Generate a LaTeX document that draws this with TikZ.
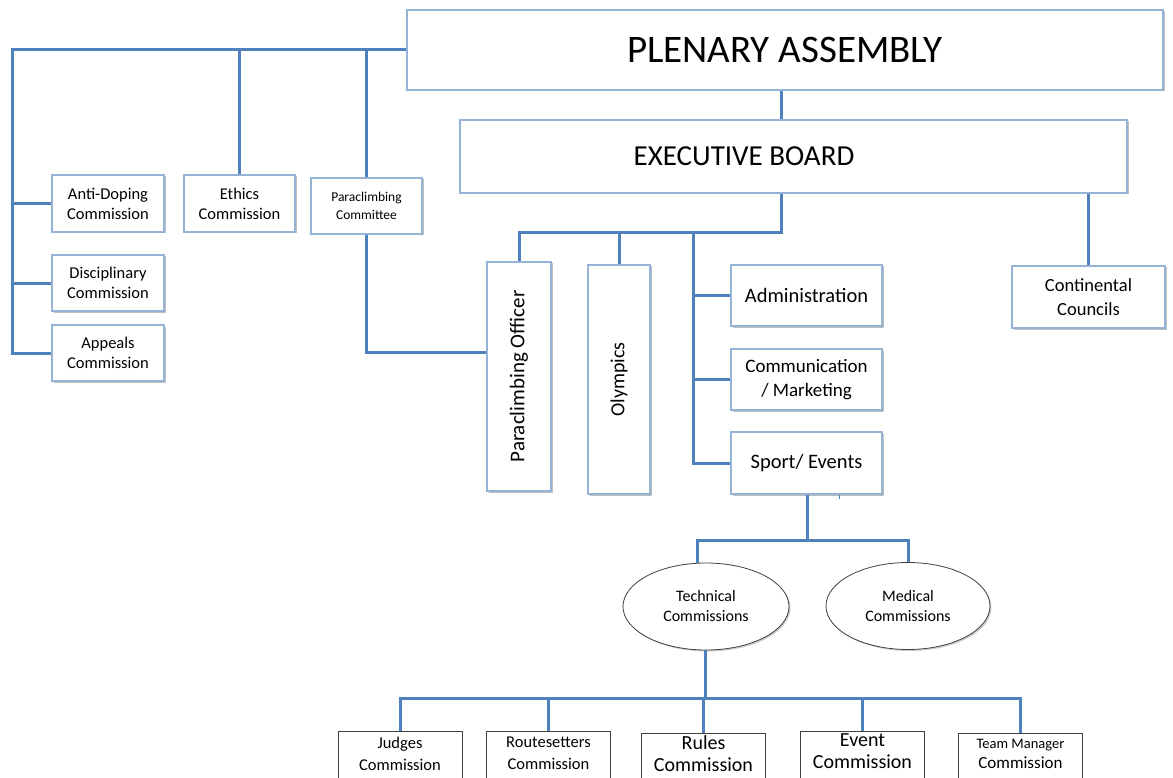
\documentclass[tikz,border=0pt]{standalone}
\usepackage{fontspec}
\setmainfont{Carlito}
\usepackage{graphicx}
\usetikzlibrary{shapes.geometric,shadows}
\definecolor{lineblue}{HTML}{4F81BD}
\definecolor{boxblue}{HTML}{95B3D7}
\definecolor{darkgrey}{HTML}{404040}
\newcommand{\fs}[2]{\fontsize{#1}{#2}\selectfont}
\tikzset{
  conn/.style={draw=lineblue,line width=3pt},
  bbox/.style={draw=boxblue,line width=1.2pt,fill=white,align=center,inner sep=1pt,
    drop shadow={shadow xshift=1.5pt,shadow yshift=-1.5pt,opacity=0.25,fill=black}},
  ebox/.style={ellipse,draw=darkgrey,line width=0.8pt,fill=white,align=center,inner sep=0pt,
    drop shadow={shadow xshift=1.5pt,shadow yshift=-1.5pt,opacity=0.2,fill=black}},
  gbox/.style={draw=darkgrey,line width=0.8pt,fill=white,inner xsep=2pt,inner ysep=6pt,
    anchor=north},
}
\begin{document}
\begin{tikzpicture}[x=1pt,y=-1pt]
\useasboundingbox[fill=white] (0,0) rectangle (1173,778);
% top level
\node[bbox,minimum width=756pt,minimum height=80pt,font=\fs{39}{42}] (pa) at (785,50) {PLENARY ASSEMBLY};
\node[bbox,minimum width=667pt,minimum height=73pt,font=\fs{29}{32}] (ex) at (793.5,156.5) {\hspace*{-99pt}EXECUTIVE BOARD};
% left commissions
\node[bbox,minimum width=112pt,minimum height=57pt,font=\fs{16.5}{20}] (ad) at (108,203.5) {Anti-Doping\\Commission};
\node[bbox,minimum width=112pt,minimum height=56pt,font=\fs{16.5}{20}] (dc) at (108,283) {Disciplinary\\Commission};
\node[bbox,minimum width=112pt,minimum height=56pt,font=\fs{16.5}{20}] (ap) at (108,353) {Appeals\\Commission};
\node[bbox,minimum width=111pt,minimum height=57pt,font=\fs{16.5}{20}] (et) at (239.5,203.5) {Ethics\\Commission};
\node[bbox,minimum width=111pt,minimum height=56pt,font=\fs{13.5}{18}] (pc) at (366.5,206) {Paraclimbing\\Committee};
% executive branches
\node[bbox,minimum width=64pt,minimum height=229pt,font=\fs{21}{24}] (po) at (519,376.5) {\rotatebox{90}{Paraclimbing Officer}};
\node[bbox,minimum width=62pt,minimum height=229pt,font=\fs{20}{24}] (ol) at (619,379.5) {\rotatebox{90}{Olympics}};
\node[bbox,minimum width=151pt,minimum height=61pt,font=\fs{20.5}{24}] (adm) at (806.5,295.5) {Administration};
\node[bbox,minimum width=151pt,minimum height=61pt,font=\fs{19}{24}] (com) at (806.5,379.5) {Communication\\/ Marketing};
\node[bbox,minimum width=151pt,minimum height=62pt,font=\fs{20.5}{24}] (se) at (806.5,463) {Sport/ Events};
\node[bbox,minimum width=153pt,minimum height=62pt,font=\fs{18.5}{24}] (cc) at (1088.5,297) {Continental\\Councils};
% ellipses
\node[ebox,minimum width=166pt,minimum height=87pt,font=\fs{16}{20}] (tc) at (706,606.5) {Technical\\Commissions};
\node[ebox,minimum width=164pt,minimum height=87pt,font=\fs{16}{20}] (mc) at (908,606) {Medical\\Commissions};
% bottom commissions
\node[gbox] (jc) at (400,731) {\parbox[t][56pt][t]{120pt}{\centering\fs{16.5}{22}Judges\\Commission}};
\node[gbox] (rs) at (548.5,731) {\parbox[t][56pt][t]{120pt}{\centering\fs{16.5}{22}Routesetters\\Commission}};
\node[gbox,inner ysep=2.5pt] (ru) at (703.5,733) {\parbox[t][56pt][t]{120pt}{\centering\fs{20}{21.5}Rules\\Commission}};
\node[gbox,inner ysep=2.5pt] (ev) at (862.5,731) {\parbox[t][56pt][t]{120pt}{\centering\fs{20}{21.5}Event\\Commission}};
\node[gbox] (tm) at (1020.5,733) {\parbox[t][56pt][t]{120pt}{\centering\fs{14.5}{20}Team Manager\\{\fs{17}{20}Commission}}};
% coordinates
\coordinate (L) at (12,50);
\coordinate (eb1) at (781,0);
\coordinate (h1) at (781,233);
\coordinate (sp) at (693,233);
\coordinate (h2) at (807,540);
\coordinate (h3) at (705,698);
% connectors: plenary side
\draw[conn] (pa.west) -- (L) |- (ap.west);
\draw[conn] (L |- ad.west) -- (ad.west);
\draw[conn] (L |- dc.west) -- (dc.west);
\draw[conn] (et.north) -- (et.north |- pa.west);
\draw[conn] (pc.north) -- (pc.north |- pa.west);
\draw[conn] (pc.south) |- ([yshift=24pt]po.west);
\draw[conn] (pa.south -| eb1) -- (ex.north -| eb1);
% executive board
\draw[conn] (ex.south -| eb1) -- (h1) -- (po.north |- h1) -- (po.north);
\draw[conn] (ol.north) -- (ol.north |- h1);
\draw[conn] (sp) |- (se.west);
\draw[conn] (sp |- adm.west) -- (adm.west);
\draw[conn] (sp |- com.west) -- (com.west);
\draw[conn] (cc.north) -- (cc.north |- ex.south);
% sport events
\draw[conn] (se.south -| h2) -- (h2);
\draw[conn] (tc.north -| 697,0) |- (h2) -| (mc.north);
\draw[conn,line width=1.5pt] ([xshift=33pt]se.south) -- ++(0,-4pt);
% technical
\draw[conn] (tc.south -| h3) -- (h3);
\draw[conn] (jc.north) |- (tm.north |- h3) -- (tm.north);
\draw[conn] (rs.north) -- (rs.north |- h3);
\draw[conn] (ru.north) -- (ru.north |- h3);
\draw[conn] (ev.north) -- (ev.north |- h3);
\end{tikzpicture}
\end{document}
